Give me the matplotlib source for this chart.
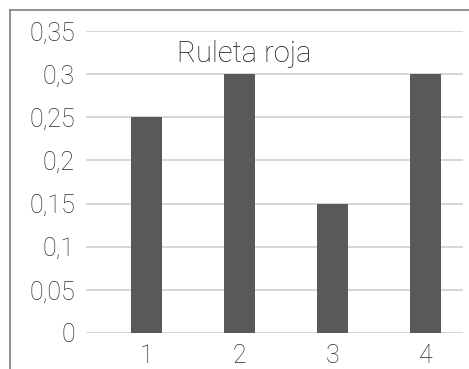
import matplotlib
matplotlib.use('Agg')
import matplotlib.pyplot as plt
from matplotlib.lines import Line2D

categorias = ['1', '2', '3', '4']
valores = [0.25, 0.30, 0.15, 0.30]
y_ticks = [0, 0.05, 0.1, 0.15, 0.2, 0.25, 0.3, 0.35]
y_labels = ['0', '0,05', '0,1', '0,15', '0,2', '0,25', '0,3', '0,35']
titulo = 'Ruleta roja'

plt.rcParams['font.family'] = ['Roboto', 'DejaVu Sans']
texto = '#2a2a2a'

W, H = 469, 369
fig = plt.figure(figsize=(W / 100, H / 100), dpi=100)
ax = fig.add_axes([86 / W, (H - 333) / H, (463 - 86) / W, (333 - 31) / H])

x = range(1, len(categorias) + 1)
ax.bar(x, valores, width=0.333, color='#58595b', zorder=3)

ax.set_xlim(0.35, 4.40)
ax.set_ylim(0, 0.35)
ax.set_yticks(y_ticks)
ax.set_yticklabels(y_labels)
ax.set_xticks(list(x))
ax.set_xticklabels(categorias)
ax.grid(axis='y', color='#d0d0d0', linewidth=1.2, zorder=0)
for s in ax.spines.values():
    s.set_visible(False)
ax.tick_params(length=0, labelsize=18, labelcolor=texto, pad=8)
for lab in ax.get_xticklabels() + ax.get_yticklabels():
    lab.set_fontweight('light')

ax.text(0.42, 0.925, titulo, transform=ax.transAxes, ha='center', va='center',
        fontsize=21, color='#1a1a1a', fontweight='light')

# borde del grafico (recortado)
fig.add_artist(Line2D([10 / W, 10 / W], [0, (H - 10) / H], color='#808080', lw=1.2))
fig.add_artist(Line2D([10 / W, 1], [(H - 10) / H, (H - 10) / H], color='#808080', lw=1.2))

fig.savefig('out.png', dpi=100)
